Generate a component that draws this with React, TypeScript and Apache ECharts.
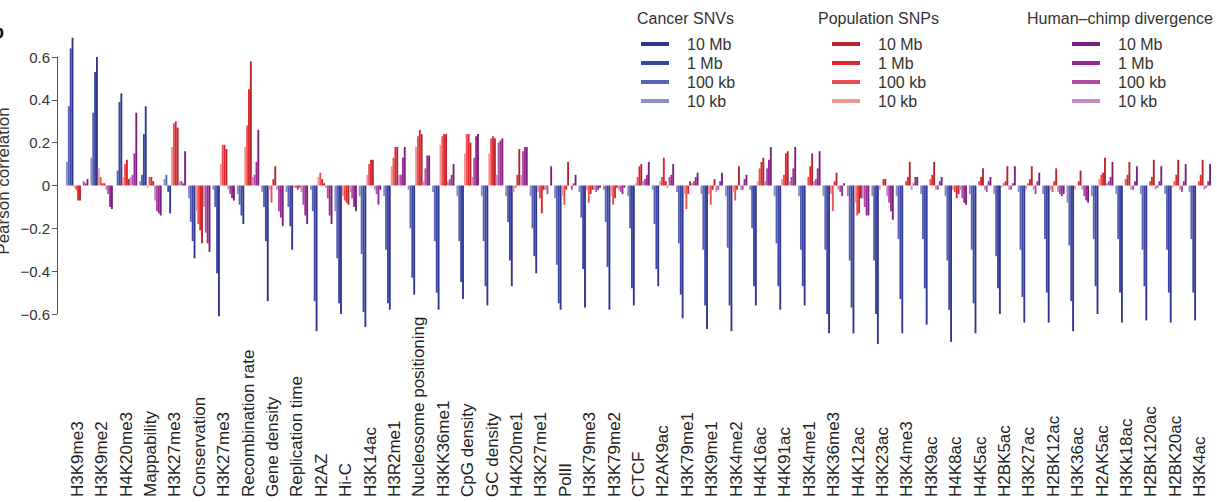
import React, { useEffect, useRef } from "react";
import * as echarts from "echarts";

const categories = [
  "H3K9me3", "H3K9me2", "H4K20me3", "Mappability", "H3K27me3", "Conservation", "H3K27me3",
  "Recombination rate", "Gene density", "Replication time", "H2AZ", "Hi-C", "H3K14ac", "H3R2me1",
  "Nucleosome positioning", "H3KK36me1", "CpG density", "GC density", "H4K20me1", "H3K27me1",
  "PolII", "H3K79me3", "H3K79me2", "CTCF", "H2AK9ac", "H3K79me1", "H3K9me1", "H3K4me2",
  "H4K16ac", "H4K91ac", "H3K4me1", "H3K36me3", "H4K12ac", "H3K23ac", "H3K4me3", "H3K9ac",
  "H4K8ac", "H4K5ac", "H2BK5ac", "H3K27ac", "H2BK12ac", "H3K36ac", "H2AK5ac", "H3Kk18ac",
  "H2BK120ac", "H2BK20ac", "H3K4ac",
];

const yTicks = [-0.6, -0.4, -0.2, 0, 0.2, 0.4, 0.6];

// Cancer SNVs
const cancer10kb = [
  0.11, 0.13, 0.0, 0.02, 0.03, -0.06, -0.02, -0.04, -0.03, -0.03,
  -0.02, -0.12, -0.05, -0.05, -0.02, -0.03, -0.05, -0.05, -0.05, -0.05,
  -0.06, -0.03, -0.02, -0.05, -0.02, -0.03, -0.04, -0.05, -0.02, -0.05,
  -0.05, -0.05, -0.05, -0.05, -0.05, -0.04, -0.05, -0.04, -0.04, -0.03,
  -0.04, -0.08, -0.05, -0.04, -0.04, -0.04, -0.03,
];
const cancer100kb = [
  0.37, 0.34, 0.07, 0.05, 0.05, -0.17, -0.1, -0.09, -0.1, -0.1,
  -0.12, -0.34, -0.32, -0.3, -0.2, -0.26, -0.26, -0.26, -0.17, -0.2,
  -0.37, -0.15, -0.17, -0.2, -0.18, -0.27, -0.3, -0.29, -0.2, -0.27,
  -0.3, -0.3, -0.35, -0.35, -0.25, -0.25, -0.35, -0.3, -0.33, -0.3,
  -0.25, -0.28, -0.25, -0.25, -0.3, -0.3, -0.25,
];
const cancer1Mb = [
  0.64, 0.53, 0.39, 0.24, -0.03, -0.26, -0.41, -0.14, -0.26, -0.19,
  -0.54, -0.55, -0.59, -0.55, -0.43, -0.5, -0.45, -0.47, -0.35, -0.33,
  -0.55, -0.39, -0.38, -0.48, -0.39, -0.51, -0.56, -0.56, -0.47, -0.47,
  -0.47, -0.6, -0.57, -0.6, -0.53, -0.48, -0.58, -0.55, -0.48, -0.52,
  -0.5, -0.54, -0.47, -0.5, -0.47, -0.5, -0.5,
];
const cancer10Mb = [
  0.69, 0.6, 0.43, 0.37, -0.13, -0.34, -0.61, -0.18, -0.54, -0.3,
  -0.68, -0.6, -0.66, -0.58, -0.51, -0.58, -0.53, -0.56, -0.47, -0.41,
  -0.58, -0.57, -0.58, -0.56, -0.47, -0.62, -0.67, -0.68, -0.56, -0.58,
  -0.56, -0.69, -0.69, -0.74, -0.69, -0.65, -0.73, -0.69, -0.6, -0.64,
  -0.64, -0.68, -0.6, -0.64, -0.63, -0.64, -0.63,
];

// Population SNPs
const pop10kb = [
  -0.01, 0.08, 0.04, -0.01, 0.18, -0.12, 0.1, 0.18, -0.02, -0.01,
  0.04, -0.05, 0.05, 0.09, 0.18, 0.19, 0.15, 0.15, -0.03, -0.03,
  -0.05, -0.02, -0.05, 0.01, 0.02, -0.04, -0.04, -0.03, 0.02, 0.03,
  0.0, -0.04, -0.08, -0.02, 0.0, 0.0, -0.02, 0.0, -0.01, -0.02,
  -0.02, -0.02, 0.03, 0.0, 0.0, -0.01, 0.0,
];
const pop100kb = [
  -0.02, 0.04, 0.1, 0.04, 0.29, -0.18, 0.19, 0.28, -0.08, -0.01,
  0.06, -0.07, 0.1, 0.13, 0.23, 0.23, 0.24, 0.22, -0.01, -0.06,
  -0.09, -0.08, -0.09, 0.04, 0.04, -0.11, -0.09, -0.07, 0.08, 0.05,
  0.04, -0.12, -0.14, 0.0, 0.02, 0.03, -0.03, 0.02, 0.01, 0.01,
  -0.03, 0.0, 0.05, 0.03, 0.02, 0.02, 0.02,
];
const pop1Mb = [
  -0.07, 0.01, 0.12, 0.04, 0.3, -0.21, 0.19, 0.45, 0.03, -0.02,
  0.03, -0.08, 0.12, 0.18, 0.26, 0.24, 0.24, 0.23, 0.05, -0.13,
  -0.02, -0.04, -0.06, 0.09, 0.13, -0.04, -0.02, -0.02, 0.11, 0.15,
  0.09, 0.02, -0.13, 0.03, 0.04, 0.05, -0.06, 0.04, 0.02, 0.03,
  0.02, 0.02, 0.06, 0.05, 0.04, 0.05, 0.05,
];
const pop10Mb = [
  -0.07, 0.01, 0.03, 0.02, 0.27, -0.27, 0.17, 0.58, 0.09, -0.01,
  0.01, -0.09, 0.12, 0.18, 0.24, 0.24, 0.2, 0.22, 0.17, -0.02,
  0.11, -0.02, -0.01, 0.1, 0.02, 0.02, 0.03, 0.09, 0.13, 0.16,
  0.15, 0.06, -0.06, 0.03, 0.11, 0.11, -0.04, 0.08, 0.09, 0.09,
  0.08, 0.07, 0.13, 0.11, 0.12, 0.12, 0.12,
];

// Human–chimp divergence
const hc10kb = [
  0.0, -0.02, 0.04, -0.07, 0.02, -0.1, -0.02, 0.04, -0.02, -0.03,
  -0.01, -0.03, -0.02, 0.05, 0.02, 0.02, 0.04, 0.05, 0.05, -0.02,
  0.0, -0.02, -0.02, 0.02, -0.01, 0.01, -0.03, -0.02, 0.02, 0.02,
  0.02, -0.02, -0.06, -0.05, -0.02, -0.02, -0.02, -0.02, -0.02, -0.02,
  -0.03, -0.02, 0.01, -0.02, -0.02, -0.02, -0.02,
];
const hc100kb = [
  0.02, -0.04, 0.05, -0.12, 0.02, -0.22, -0.04, 0.05, -0.12, -0.09,
  -0.06, -0.06, -0.04, 0.05, 0.08, 0.03, 0.13, 0.2, 0.16, -0.04,
  -0.02, -0.03, -0.03, 0.03, 0.04, 0.02, -0.02, -0.02, 0.08, 0.04,
  0.03, -0.03, -0.1, -0.08, 0.01, -0.02, -0.06, -0.03, -0.02, -0.04,
  -0.04, -0.05, 0.02, -0.02, -0.01, -0.03, -0.01,
];
const hc1Mb = [
  0.01, -0.1, 0.15, -0.13, 0.01, -0.27, -0.06, 0.11, -0.15, -0.14,
  -0.14, -0.1, -0.09, 0.13, 0.14, 0.05, 0.23, 0.21, 0.18, 0.0,
  0.01, -0.02, -0.04, 0.05, 0.05, 0.04, 0.02, 0.03, 0.12, 0.08,
  0.08, -0.05, -0.14, -0.12, 0.04, 0.02, -0.08, 0.02, 0.01, 0.02,
  -0.05, -0.07, 0.04, 0.02, 0.02, 0.02, 0.02,
];
const hc10Mb = [
  0.03, -0.11, 0.34, -0.14, 0.16, -0.31, -0.07, 0.26, -0.19, -0.18,
  -0.18, -0.12, -0.02, 0.18, 0.14, 0.1, 0.24, 0.22, 0.18, 0.09,
  0.05, -0.01, -0.01, 0.11, 0.1, 0.06, 0.06, 0.05, 0.18, 0.18,
  0.16, 0.01, -0.14, -0.16, 0.04, 0.04, -0.09, 0.04, 0.09, 0.06,
  -0.04, -0.08, 0.11, 0.09, 0.09, 0.1, 0.1,
];

const resolutions = ["10 kb", "100 kb", "1 Mb", "10 Mb"];
const groupNames = ["Cancer SNVs", "Population SNPs", "Human–chimp divergence"];
const groupData = [
  [cancer10kb, cancer100kb, cancer1Mb, cancer10Mb],
  [pop10kb, pop100kb, pop1Mb, pop10Mb],
  [hc10kb, hc100kb, hc1Mb, hc10Mb],
];
const groupColors = [
  ["#8b8ec8", "#5a61b3", "#3a45a6", "#2f3590"],
  ["#f19595", "#ec4f50", "#e3232a", "#b7242a"],
  ["#c98cc1", "#ae4ba4", "#982a92", "#78207b"],
];

const FONT = "'Liberation Sans', Arial, Helvetica, sans-serif";

export default function App() {
  const ref = useRef<HTMLDivElement>(null);
  useEffect(() => {
    if (!ref.current) return;
    const chart = echarts.init(ref.current, null, { renderer: "svg" });

    const series: any[] = [];
    groupNames.forEach((g, gi) => {
      resolutions.forEach((r, ri) => {
        series.push({
          name: `${g}|${r}`,
          type: "bar",
          data: groupData[gi][ri],
          itemStyle: { color: groupColors[gi][ri] },
          barGap: "0%",
          barCategoryGap: "8%",
          clip: false,
          silent: true,
        });
      });
    });

    const legendLefts = [641, 832, 1072];
    const titleX = [637, 818, 1027];
    const legends = groupNames.map((g, gi) => ({
      orient: "vertical",
      left: legendLefts[gi],
      top: 36,
      padding: 0,
      icon: "rect",
      itemWidth: 28,
      itemHeight: 4,
      itemGap: 3,
      selectedMode: false,
      data: resolutions.slice().reverse().map((r) => `${g}|${r}`),
      formatter: (n: string) => n.split("|")[1],
      textStyle: { fontSize: 16, color: "#333", fontFamily: FONT, padding: [0, 0, 0, 13] },
    }));

    chart.setOption({
      animation: false,
      backgroundColor: "#ffffff",
      grid: { left: 65, right: 5, top: 57, bottom: 188 },
      legend: legends,
      graphic: [
        ...groupNames.map((g, gi) => ({
          type: "text",
          x: titleX[gi],
          y: 18,
          style: { text: g, fontSize: 16, fill: "#333", fontFamily: FONT, align: "left", verticalAlign: "middle" },
        })),
        {
          type: "text",
          x: 3,
          y: 181,
          rotation: Math.PI / 2,
          style: { text: "Pearson correlation", fontSize: 17, fill: "#333", fontFamily: FONT, align: "center", verticalAlign: "middle" },
        },
        {
          type: "text",
          x: 4,
          y: 32,
          style: { text: "b", fontSize: 18, fontWeight: "bold", fill: "#111", fontFamily: FONT, align: "right", verticalAlign: "middle" },
        },
      ],
      xAxis: {
        type: "category",
        data: categories,
        axisLine: { show: false, onZero: false },
        axisTick: { show: false },
        splitLine: { show: false },
        axisLabel: {
          interval: 0,
          rotate: 90,
          align: "left",
          verticalAlign: "middle",
          margin: 183,
          fontSize: 17,
          color: "#222",
          fontFamily: FONT,
        },
      },
      yAxis: {
        type: "value",
        min: yTicks[0],
        max: yTicks[yTicks.length - 1],
        interval: 0.2,
        offset: 8,
        axisLine: { show: true, lineStyle: { color: "#555", width: 1 } },
        axisTick: { show: true, length: 5, lineStyle: { color: "#555" } },
        splitLine: { show: false },
        axisLabel: {
          margin: 7,
          fontSize: 15,
          color: "#333",
          fontFamily: FONT,
          formatter: (v: number) => {
            if (Math.abs(v) < 1e-9) return "0";
            return (v < 0 ? "−" : "") + Math.abs(v).toFixed(1);
          },
        },
      },
      series,
    });
    return () => chart.dispose();
  }, []);
  return <div ref={ref} style={{ position: "absolute", left: 0, top: 0, width: 1217, height: 502 }} />;
}
